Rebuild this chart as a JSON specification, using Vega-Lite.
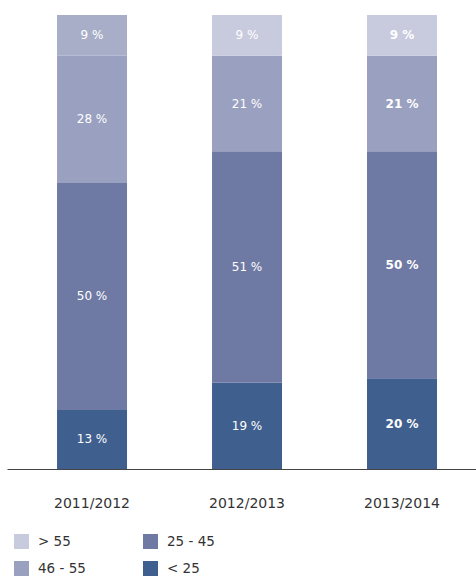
{
  "$schema": "https://vega.github.io/schema/vega-lite/v6.json",
  "width": 469,
  "height": 454,
  "autosize": {"type": "none"},
  "padding": {"left": 7, "top": 15, "right": 0, "bottom": 107},
  "background": "white",
  "config": {"view": {"stroke": null}, "font": "DejaVu Sans"},
  "data": {
    "values": [
      {"year": "2011/2012", "group": "< 25", "rank": 1, "value": 13, "label": "13 %"},
      {"year": "2011/2012", "group": "25 - 45", "rank": 2, "value": 50, "label": "50 %"},
      {"year": "2011/2012", "group": "46 - 55", "rank": 3, "value": 28, "label": "28 %"},
      {"year": "2011/2012", "group": "> 55", "rank": 4, "value": 9, "label": "9 %"},
      {"year": "2012/2013", "group": "< 25", "rank": 1, "value": 19, "label": "19 %"},
      {"year": "2012/2013", "group": "25 - 45", "rank": 2, "value": 51, "label": "51 %"},
      {"year": "2012/2013", "group": "46 - 55", "rank": 3, "value": 21, "label": "21 %"},
      {"year": "2012/2013", "group": "> 55", "rank": 4, "value": 9, "label": "9 %"},
      {"year": "2013/2014", "group": "< 25", "rank": 1, "value": 20, "label": "20 %"},
      {"year": "2013/2014", "group": "25 - 45", "rank": 2, "value": 50, "label": "50 %"},
      {"year": "2013/2014", "group": "46 - 55", "rank": 3, "value": 21, "label": "21 %"},
      {"year": "2013/2014", "group": "> 55", "rank": 4, "value": 9, "label": "9 %"}
    ]
  },
  "encoding": {
    "x": {
      "field": "year",
      "type": "nominal",
      "scale": {"paddingInner": 0.5484, "paddingOuter": 0.2872, "align": 0.562},
      "axis": {
        "title": null,
        "labelAngle": 0,
        "ticks": false,
        "domainColor": "#444444",
        "domainWidth": 1.2,
        "labelFontSize": 14,
        "labelColor": "#333333",
        "labelPadding": 27
      }
    }
  },
  "layer": [
    {
      "mark": {"type": "bar"},
      "encoding": {
        "y": {"field": "value", "type": "quantitative", "stack": "zero", "scale": {"domain": [0, 100]}, "axis": null},
        "order": {"field": "rank", "type": "quantitative"},
        "color": {
          "condition": {"test": "datum.year === '2011/2012' && datum.group === '> 55'", "value": "#a9aec8"},
          "field": "group",
          "type": "nominal",
          "scale": {
            "domain": ["> 55", "46 - 55", "25 - 45", "< 25"],
            "range": ["#c8cade", "#9aa0bf", "#6f7aa4", "#3f5f8f"]
          },
          "legend": {
            "title": null,
            "orient": "none",
            "legendX": 7,
            "legendY": 519,
            "columns": 2,
            "symbolType": "square",
            "symbolSize": 225,
            "symbolStrokeWidth": 0,
            "labelFontSize": 13.5,
            "labelColor": "#333333",
            "labelOffset": 9,
            "rowPadding": 12,
            "columnPadding": 57
          }
        }
      }
    },
    {
      "transform": [{"filter": "datum.year !== '2013/2014'"}],
      "mark": {"type": "text", "color": "white", "fontSize": 12},
      "encoding": {
        "y": {"field": "value", "type": "quantitative", "stack": "zero", "bandPosition": 0.5},
        "order": {"field": "rank", "type": "quantitative"},
        "text": {"field": "label", "type": "nominal"}
      }
    },
    {
      "transform": [{"filter": "datum.year === '2013/2014'"}],
      "mark": {"type": "text", "color": "white", "fontSize": 12, "fontWeight": "bold"},
      "encoding": {
        "y": {"field": "value", "type": "quantitative", "stack": "zero", "bandPosition": 0.5},
        "order": {"field": "rank", "type": "quantitative"},
        "text": {"field": "label", "type": "nominal"}
      }
    }
  ]
}
